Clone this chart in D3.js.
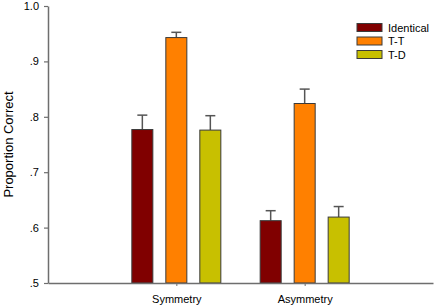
<!DOCTYPE html>
<html><head><meta charset="utf-8">
<script src="https://cdn.jsdelivr.net/npm/d3@7"></script>
<style>body{margin:0;background:#fff}svg{display:block}text{font-family:"Liberation Sans",Arial,sans-serif}</style>
</head><body><svg id="c" width="435" height="307"></svg>
<script>
const groups = ["Symmetry", "Asymmetry"];
const series = ["Identical", "T-T", "T-D"];
const colors = ["#800000", "#FF8000", "#C8C000"];
const means = [[0.777, 0.943, 0.776], [0.6125, 0.824, 0.619]];
const errors = [[0.026, 0.0095, 0.026], [0.018, 0.026, 0.019]];
const yTicks = [0.5, 0.6, 0.7, 0.8, 0.9, 1.0];
const yTickLabels = [".5", ".6", ".7", ".8", ".9", "1.0"];

const svg = d3.select("#c");
const mLeft = 48, mRight = 433, mTop = 6, mBottom = 283;
const y = d3.scaleLinear().domain([0.5, 1.0]).range([mBottom, mTop]);
const x = d3.scalePoint().domain(["_s", ...groups, "_e"]).range([mLeft, mRight]);
const inner = d3.scaleBand().domain(series).range([-44.5, 44.5]).paddingInner(0.382).paddingOuter(0);
const axisColor = "#6e6e6e";

// bars
groups.forEach((g, gi) => {
  series.forEach((s, si) => {
    const bx = x(g) + inner(s);
    const bw = inner.bandwidth();
    const v = means[gi][si], e = errors[gi][si];
    const cx = bx + bw / 2;
    svg.append("line").attr("x1", cx).attr("x2", cx).attr("y1", y(v)).attr("y2", y(v + e))
      .attr("stroke", "#555").attr("stroke-width", 1.5);
    svg.append("line").attr("x1", cx - 5).attr("x2", cx + 5).attr("y1", y(v + e)).attr("y2", y(v + e))
      .attr("stroke", "#555").attr("stroke-width", 1.5);
    svg.append("rect").attr("x", bx).attr("y", y(v)).attr("width", bw).attr("height", y(0.5) - y(v))
      .attr("fill", colors[si]).attr("stroke", "#3a3a3a").attr("stroke-width", 1);
  });
});

// y axis
const yAxis = d3.axisLeft(y).tickValues(yTicks).tickFormat((d, i) => yTickLabels[i]).tickSize(4).tickSizeOuter(0);
const gy = svg.append("g").attr("transform", `translate(${mLeft},0)`).call(yAxis);
gy.select(".domain").attr("stroke", axisColor).attr("stroke-width", 1.5);
gy.selectAll(".tick line").attr("stroke", axisColor).attr("stroke-width", 1.2);
gy.selectAll(".tick text").attr("font-size", 11).attr("fill", "#000").attr("x", -9)
  .attr("font-family", '"Liberation Sans",Arial,sans-serif');

// x axis
const xAxis = d3.axisBottom(x).tickValues(groups).tickSize(3).tickSizeOuter(0).tickPadding(9);
const gx = svg.append("g").attr("transform", `translate(0,${mBottom})`).call(xAxis);
gx.select(".domain").attr("stroke", axisColor).attr("stroke-width", 1.5);
gx.selectAll(".tick line").attr("stroke", axisColor);
gx.selectAll(".tick text").attr("font-size", 11).attr("fill", "#000")
  .attr("font-family", '"Liberation Sans",Arial,sans-serif');

// y label
svg.append("text").attr("transform", `translate(13,${(mTop + mBottom) / 2}) rotate(-90)`)
  .attr("text-anchor", "middle").attr("font-size", 13).text("Proportion Correct");

// legend
const lg = svg.append("g");
series.forEach((s, i) => {
  const ly = 23.5 + i * 13.5;
  lg.append("rect").attr("x", 357).attr("y", ly).attr("width", 25).attr("height", 8)
    .attr("fill", colors[i]).attr("stroke", "#3a3a3a").attr("stroke-width", 1);
  lg.append("text").attr("x", 388).attr("y", ly + 8).attr("font-size", 11).text(s);
});
</script></body></html>
